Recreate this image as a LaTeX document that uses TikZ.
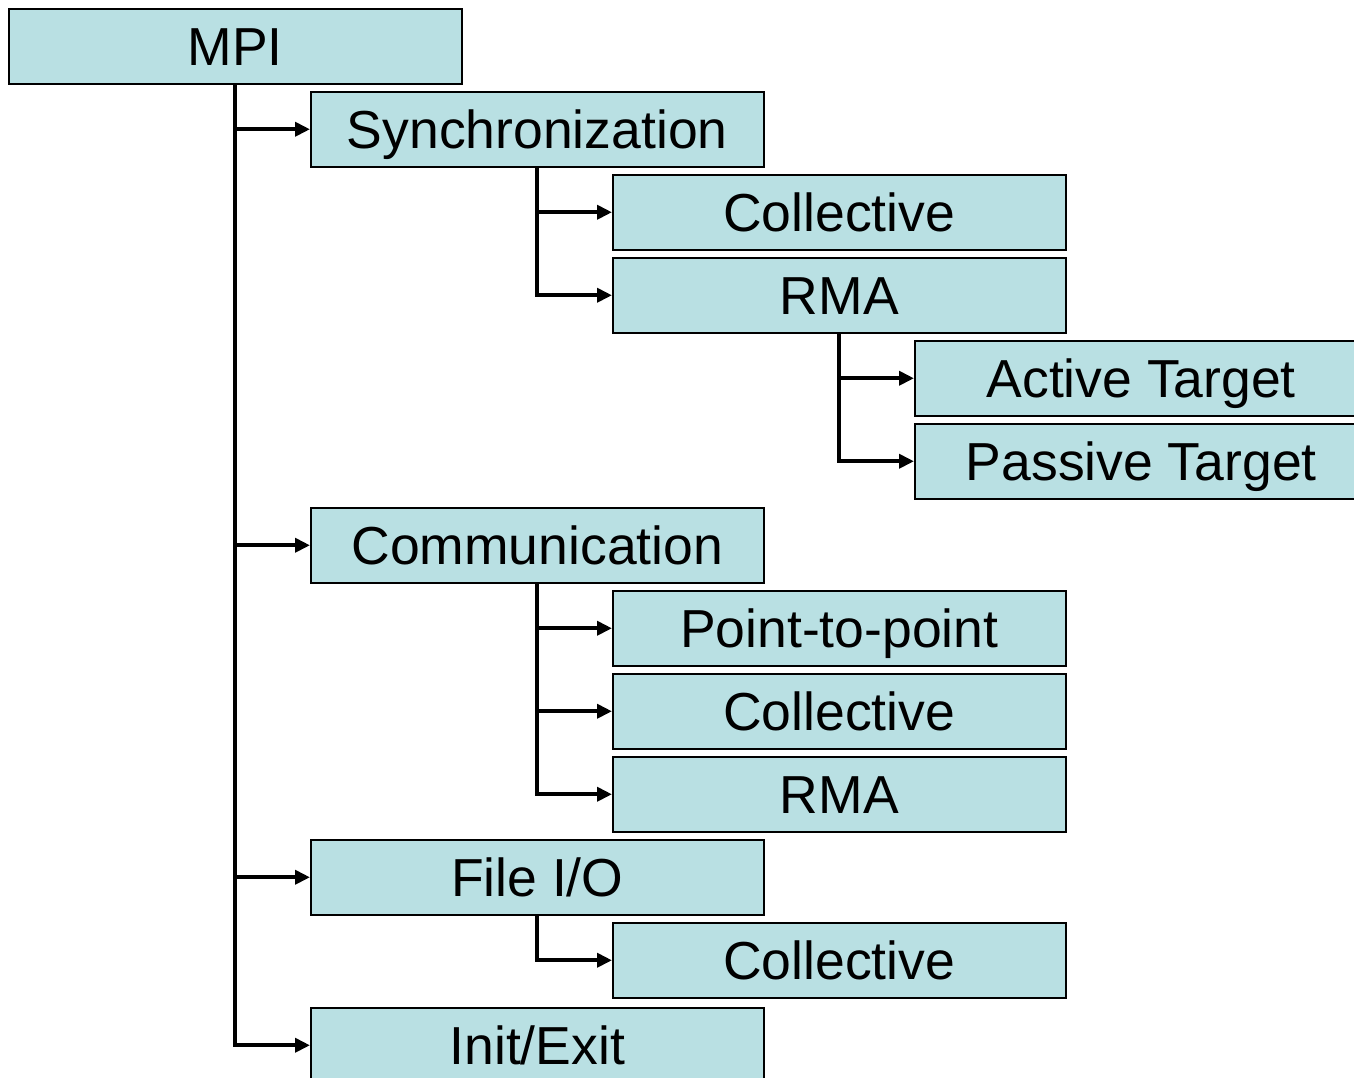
\documentclass[tikz,border=0pt]{standalone}
\usepackage{fontspec}
\setmainfont{Liberation Sans}
\usetikzlibrary{arrows.meta}
\definecolor{boxfill}{RGB}{185,224,227}
\tikzset{
  box/.style={draw=black, line width=1.5pt, fill=boxfill, minimum width=453pt, minimum height=75pt,
    inner sep=0pt, anchor=north west, font=\fontsize{53.5}{60}\selectfont, text height=38pt, text depth=0pt},
  conn/.style={line width=4pt, -{Triangle[length=15pt,width=14pt]}},
  trunk/.style={line width=4pt}
}
\begin{document}
\begin{tikzpicture}[x=1pt,y=-1pt]
\useasboundingbox (0,0) rectangle (1354,1077);
\begin{scope}
\clip (0,0) rectangle (1354,1077);
\node[box] (mpi) at (8,8) {MPI};
\node[box] (sync) at (310,91) {Synchronization};
\node[box] (scoll) at (612,174) {Collective};
\node[box] (srma) at (612,257) {RMA};
\node[box] (act) at (914,340) {Active Target};
\node[box] (pas) at (914,423) {Passive Target};
\node[box] (comm) at (310,507) {Communication};
\node[box] (p2p) at (612,590) {Point-to-point};
\node[box] (ccoll) at (612,673) {Collective};
\node[box] (crma) at (612,756) {RMA};
\node[box] (fio) at (310,839) {File I/O};
\node[box] (fcoll) at (612,922) {Collective};
\node[box] (init) at (310,1007) {Init/Exit};

\coordinate (t0) at (235,0);
\coordinate (t1) at (537,0);
\coordinate (t2) at (839,0);

% MPI trunk
\draw[trunk] (t0 |- mpi.south) -- ([yshift=2pt]t0 |- init.west);
\draw[conn] ([xshift=-2pt]t0 |- sync.west) -- (sync.west);
\draw[conn] ([xshift=-2pt]t0 |- comm.west) -- (comm.west);
\draw[conn] ([xshift=-2pt]t0 |- fio.west) -- (fio.west);
\draw[conn] ([xshift=-2pt]t0 |- init.west) -- (init.west);

% Synchronization
\draw[trunk] (t1 |- sync.south) -- ([yshift=2pt]t1 |- srma.west);
\draw[conn] ([xshift=-2pt]t1 |- scoll.west) -- (scoll.west);
\draw[conn] ([xshift=-2pt]t1 |- srma.west) -- (srma.west);

% RMA
\draw[trunk] (t2 |- srma.south) -- ([yshift=2pt]t2 |- pas.west);
\draw[conn] ([xshift=-2pt]t2 |- act.west) -- (act.west);
\draw[conn] ([xshift=-2pt]t2 |- pas.west) -- (pas.west);

% Communication
\draw[trunk] (t1 |- comm.south) -- ([yshift=2pt]t1 |- crma.west);
\draw[conn] ([xshift=-2pt]t1 |- p2p.west) -- (p2p.west);
\draw[conn] ([xshift=-2pt]t1 |- ccoll.west) -- (ccoll.west);
\draw[conn] ([xshift=-2pt]t1 |- crma.west) -- (crma.west);

% File I/O
\draw[trunk] (t1 |- fio.south) -- ([yshift=2pt]t1 |- fcoll.west);
\draw[conn] ([xshift=-2pt]t1 |- fcoll.west) -- (fcoll.west);
\end{scope}
\end{tikzpicture}
\end{document}
